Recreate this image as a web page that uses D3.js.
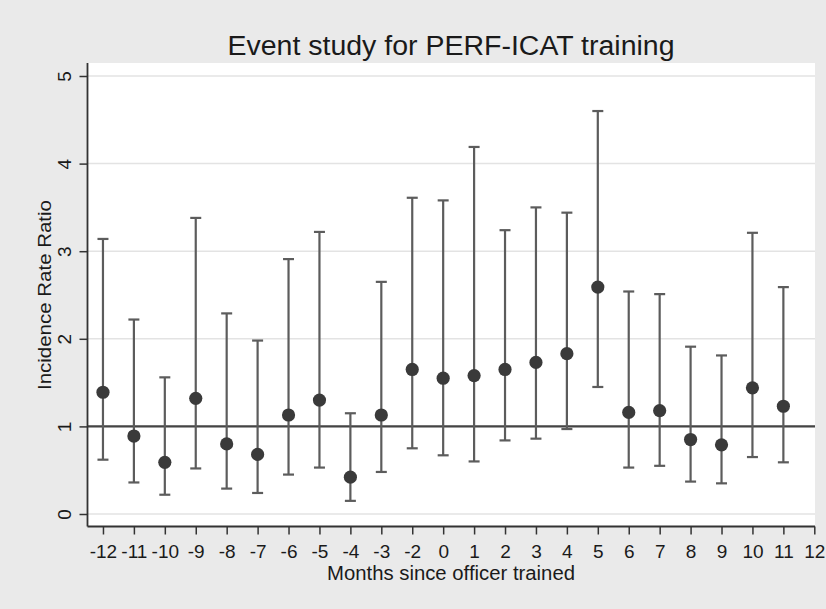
<!DOCTYPE html>
<html>
<head>
<meta charset="utf-8">
<script src="https://cdn.jsdelivr.net/npm/d3@7"></script>
<style>
  html, body { margin: 0; padding: 0; background: #eaeaea; }
  svg { display: block; }
  text { font-family: "Liberation Sans", Arial, sans-serif; fill: #1a1a1a; }
</style>
</head>
<body>
<svg id="chart" width="826" height="609"></svg>
<script>
// Month positions on the x axis (no -1: reference month)
const tickLabels = ["-12","-11","-10","-9","-8","-7","-6","-5","-4","-3","-2",
                    "0","1","2","3","4","5","6","7","8","9","10","11","12"];
// Months with estimates
const months = ["-12","-11","-10","-9","-8","-7","-6","-5","-4","-3","-2",
                "0","1","2","3","4","5","6","7","8","9","10","11"];
// Incidence rate ratio point estimates
const irr   = [1.39, 0.89, 0.59, 1.32, 0.80, 0.68, 1.13, 1.30, 0.42, 1.13, 1.65,
               1.55, 1.58, 1.65, 1.73, 1.83, 2.59, 1.16, 1.18, 0.85, 0.79, 1.44, 1.23];
// 95% confidence interval bounds
const lower = [0.62, 0.36, 0.22, 0.52, 0.29, 0.24, 0.45, 0.53, 0.15, 0.48, 0.75,
               0.67, 0.60, 0.84, 0.86, 0.97, 1.45, 0.53, 0.55, 0.37, 0.35, 0.65, 0.59];
const upper = [3.14, 2.22, 1.56, 3.38, 2.29, 1.98, 2.91, 3.22, 1.15, 2.65, 3.61,
               3.58, 4.19, 3.24, 3.50, 3.44, 4.60, 2.54, 2.51, 1.91, 1.81, 3.21, 2.59];
const yTicks = [0, 1, 2, 3, 4, 5];
const refValue = 1;

const data = months.map((m, i) => ({ idx: tickLabels.indexOf(m), est: irr[i], lo: lower[i], hi: upper[i] }));

const svg = d3.select("#chart");
const W = 826, H = 609;
const plot = { left: 87.5, right: 815, top: 63, bottom: 526.5 };

svg.append("rect").attr("width", W).attr("height", H).attr("fill", "#eaeaea");
svg.append("rect")
  .attr("x", plot.left).attr("y", plot.top)
  .attr("width", plot.right - plot.left).attr("height", plot.bottom - plot.top)
  .attr("fill", "#ffffff");

const x = d3.scaleLinear().domain([-0.5, 23]).range([plot.left, 814.3]);
const y = d3.scaleLinear().domain([0, 5]).range([514, 76]);

// Horizontal grid lines
svg.append("g").selectAll("line").data(yTicks).join("line")
  .attr("x1", plot.left).attr("x2", plot.right)
  .attr("y1", d => y(d)).attr("y2", d => y(d))
  .attr("stroke", "#e3e3e3").attr("stroke-width", 1.5);

// Reference line at IRR = 1
svg.append("line")
  .attr("x1", plot.left).attr("x2", plot.right)
  .attr("y1", y(refValue)).attr("y2", y(refValue))
  .attr("stroke", "#444").attr("stroke-width", 2.2);

// Confidence intervals
const ci = svg.append("g").attr("stroke", "#5c5c5c").attr("stroke-width", 2.2);
data.forEach(d => {
  const cx = x(d.idx);
  ci.append("line").attr("x1", cx).attr("x2", cx).attr("y1", y(d.lo)).attr("y2", y(d.hi));
  ci.append("line").attr("x1", cx - 5.5).attr("x2", cx + 5.5).attr("y1", y(d.hi)).attr("y2", y(d.hi));
  ci.append("line").attr("x1", cx - 5.5).attr("x2", cx + 5.5).attr("y1", y(d.lo)).attr("y2", y(d.lo));
});

// Point estimates
svg.append("g").selectAll("circle").data(data).join("circle")
  .attr("cx", d => x(d.idx)).attr("cy", d => y(d.est))
  .attr("r", 6.6).attr("fill", "#3a3a3a");

// Y axis
const yAxis = svg.append("g").attr("transform", `translate(${plot.left},0)`)
  .call(d3.axisLeft(y).tickValues(yTicks).tickSize(8).tickPadding(4).tickFormat(d3.format("d")));
yAxis.select(".domain").attr("d", `M0,${plot.top}V${plot.bottom}`).attr("stroke", "#333").attr("stroke-width", 1.8);
yAxis.selectAll(".tick line").attr("stroke", "#333").attr("stroke-width", 1.5);
yAxis.selectAll(".tick text")
  .attr("x", 0)
  .attr("text-anchor", "middle")
  .attr("transform", "translate(-23,0) rotate(-90)")
  .attr("dy", "0.35em")
  .style("font-size", "19px").style("font-family", "'Liberation Sans', Arial, sans-serif").attr("fill", "#1a1a1a");

// X axis
const xAxis = svg.append("g").attr("transform", `translate(0,${plot.bottom})`)
  .call(d3.axisBottom(x).tickValues(d3.range(tickLabels.length)).tickSize(8).tickPadding(10)
    .tickFormat(i => tickLabels[i]));
xAxis.select(".domain").attr("d", `M${plot.left},0H${plot.right}`).attr("stroke", "#333").attr("stroke-width", 1.8);
xAxis.selectAll(".tick line").attr("stroke", "#333").attr("stroke-width", 1.5);
xAxis.selectAll(".tick text")
  .style("font-size", "19px").style("font-family", "'Liberation Sans', Arial, sans-serif").attr("fill", "#1a1a1a");

// Titles
svg.append("text").attr("x", 451).attr("y", 55).attr("text-anchor", "middle")
  .attr("textLength", 447).attr("lengthAdjust", "spacingAndGlyphs")
  .style("font-size", "27px").text("Event study for PERF-ICAT training");

svg.append("text").attr("x", 451).attr("y", 580).attr("text-anchor", "middle")
  .attr("textLength", 248).attr("lengthAdjust", "spacingAndGlyphs")
  .style("font-size", "20px").text("Months since officer trained");

svg.append("text").attr("transform", "translate(51,295) rotate(-90)").attr("text-anchor", "middle")
  .attr("textLength", 190).attr("lengthAdjust", "spacingAndGlyphs")
  .style("font-size", "19px").text("Incidence Rate Ratio");
</script>
</body>
</html>
